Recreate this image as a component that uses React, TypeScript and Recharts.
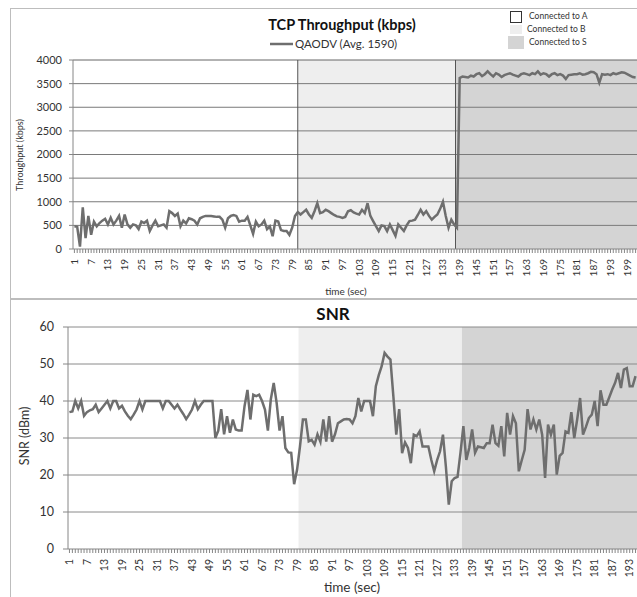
import { LineChart, Line, XAxis, YAxis, ReferenceArea, ReferenceLine } from 'recharts';

// TCP throughput (kbps), one value per second, t = 1..202
const throughput = [
  480, 470, 50, 880, 230, 700, 300, 580, 480, 550,
  600, 640, 520, 660, 520, 600, 700, 450, 730, 520,
  450, 520, 500, 420, 580, 550, 600, 380, 500, 600,
  480, 500, 520, 450, 800, 760, 700, 750, 480, 600,
  540, 650, 630, 600, 520, 650, 680, 700, 700, 700,
  690, 680, 680, 620, 450, 650, 700, 720, 700, 580,
  600, 600, 680, 500, 320, 580, 480, 520, 600, 420,
  480, 270, 600, 580, 400, 380, 380, 300, 450, 700,
  780, 730, 780, 830, 730, 660, 800, 970, 760, 780,
  830, 800, 760, 720, 690, 680, 660, 680, 800, 820,
  775, 750, 730, 830, 760, 970, 700, 590, 485, 380,
  500, 485, 380, 520, 400, 277, 520, 450, 380, 500,
  590, 600, 620, 720, 830, 730, 800, 700, 620, 680,
  730, 850, 1000, 700, 450, 620, 520, 450,
  3620, 3650, 3640, 3630, 3670, 3650, 3700, 3720, 3660, 3700,
  3760, 3700, 3650, 3720, 3690, 3640, 3680, 3700, 3720, 3690,
  3670, 3650, 3700, 3720, 3700, 3680, 3720, 3700, 3760, 3690,
  3720, 3700, 3650, 3700, 3720, 3680, 3700, 3670, 3600, 3680,
  3690, 3700, 3700, 3720, 3690, 3700, 3720, 3750, 3740, 3700,
  3520, 3700, 3690, 3700, 3680, 3720, 3700, 3720, 3740, 3730,
  3700, 3670, 3640, 3630,
];

// SNR (dBm), t = 1..195
const snr = [
  37, 37.2, 40, 38, 40, 36, 37, 37.5, 37.8, 39,
  37, 38, 39, 40, 38, 40, 40, 38, 38.7, 37.2,
  36, 35.1, 36.3, 37.7, 40, 37.7, 40, 40, 40, 40,
  40, 40, 38, 40, 40, 39, 38, 39, 37.7, 36.5,
  35.1, 36.3, 37.7, 40, 37.8, 39, 40, 40, 40, 40,
  30, 32, 37.8, 31, 35.9, 31.4, 35, 32.3, 32, 32,
  38.6, 43, 35, 41.7, 41.3, 41.7, 40, 37.7, 32, 40.4,
  44.9, 39.5, 32, 35.9, 27.3, 26.1, 26, 17.5, 21.4, 27.7,
  35, 35, 29.1, 29.5, 28.2, 31, 29, 35, 29, 35.9,
  29, 31, 34, 34.5, 35, 35.1, 35, 34, 35.9, 40.8,
  37.2, 40, 40, 40, 35.9, 44, 47, 49.4, 53, 52,
  51.2, 41.3, 30.9, 37.8, 25.9, 28.8, 27.3, 23.2, 30.9, 30.5,
  31.8, 27.7, 27.7, 27.7, 24.1, 21, 24, 26.4, 30.9, 22.3,
  12, 18.3, 19.2, 19.5, 26, 33.2, 24.1, 27.3, 32.3, 26,
  27.7, 27.5, 27.3, 28.6, 28.6, 33.6, 28.6, 27.9, 33.2, 25,
  36.8, 30.9, 35.9, 34, 21, 24, 26.8, 37.8, 32.3, 35,
  32.3, 35, 30.9, 19.2, 33.6, 30.9, 33.6, 20.1, 25.2, 26,
  31.8, 31.4, 37, 30, 35, 40.8, 30.9, 33, 35.4, 36.3,
  40, 33.2, 42.9, 39, 39, 41, 43.1, 44.9, 47.6, 43.5,
  48.5, 48.9, 44, 44, 46.7,
];

// connection periods (seconds, on category boundaries)
const tputPeriods = { b: [81, 137.5], s: [137.5, 202.5] };
const snrPeriods = { b: [79.5, 135.5], s: [135.5, 195.5] };

const tputTicksY = [0, 500, 1000, 1500, 2000, 2500, 3000, 3500, 4000];
const snrTicksY = [0, 10, 20, 30, 40, 50, 60];

const tputData = throughput.map((v, i) => ({ t: i + 1, kbps: v }));
const snrData = snr.map((v, i) => ({ t: i + 1, snr: v }));
const tputTicksX = tputData.map((d) => d.t);
const snrTicksX = snrData.map((d) => d.t);

const FONT = 'Lato, "Open Sans", sans-serif';
const LINE = '#6e6e6e';
const LIGHT = '#eeeeee';
const DARK = '#d4d4d4';

function TimeTick(props: any) {
  const { x, y, payload, fontSize } = props;
  if ((payload.value - 1) % 6 !== 0) return null;
  return (
    <text
      x={x}
      y={y}
      dx={-4}
      dy="0.35em"
      transform={`rotate(-90, ${x}, ${y})`}
      textAnchor="end"
      fontSize={fontSize}
      fontFamily={FONT}
      fill="#333"
    >
      {payload.value}
    </text>
  );
}

export default function App() {
  return (
    <div style={{ position: 'absolute', left: 0, top: 0, width: 637, height: 597, overflow: 'hidden', background: '#fff' }}>
      <div style={{ position: 'absolute', left: 10, top: 8, width: 700, height: 289, border: '1px solid #bdbdbd' }} />
      <div style={{ position: 'absolute', left: 10, top: 299, width: 700, height: 400, border: '1px solid #bdbdbd' }} />

      <div style={{ position: 'absolute', left: 0, top: 0 }}>
        <LineChart width={637} height={300} data={tputData} margin={{ top: 60, right: 0, bottom: 0, left: 0 }}>
          <ReferenceArea x1={tputPeriods.b[0]} x2={tputPeriods.b[1]} fill={LIGHT} fillOpacity={1} />
          <ReferenceArea x1={tputPeriods.s[0]} x2={tputPeriods.s[1]} fill={DARK} fillOpacity={1} />
          {tputTicksY.slice(1).map((v) => (
            <ReferenceLine key={v} y={v} stroke={v === 4000 ? '#666' : '#7a7a7a'} />
          ))}
          <ReferenceLine x={tputPeriods.b[0]} stroke="#555" />
          <ReferenceLine x={tputPeriods.s[0]} stroke="#555" />
          <XAxis
            type="number"
            dataKey="t"
            domain={[0.5, 202.5]}
            ticks={tputTicksX}
            interval={0}
            height={51}
            tickSize={4}
            tickMargin={2}
            stroke="#868686"
            tick={<TimeTick fontSize={10} />}
          />
          <YAxis
            domain={[0, 4000]}
            ticks={tputTicksY}
            width={73}
            tickSize={4}
            tickMargin={7}
            stroke="#868686"
            tick={{ fontSize: 11, fill: '#333', fontFamily: FONT }}
          />
          <Line type="linear" dataKey="kbps" stroke={LINE} strokeWidth={2.5} dot={false} isAnimationActive={false} />
        </LineChart>
      </div>

      <div style={{ position: 'absolute', left: 0, top: 300 }}>
        <LineChart width={637} height={297} data={snrData} margin={{ top: 27, right: 0, bottom: 0, left: 0 }}>
          <ReferenceArea x1={snrPeriods.b[0]} x2={snrPeriods.b[1]} fill={LIGHT} fillOpacity={1} />
          <ReferenceArea x1={snrPeriods.s[0]} x2={snrPeriods.s[1]} fill={DARK} fillOpacity={1} />
          {snrTicksY.slice(1).map((v) => (
            <ReferenceLine key={v} y={v} stroke="#8a8a8a" />
          ))}
          <XAxis
            type="number"
            dataKey="t"
            domain={[0.5, 195.5]}
            ticks={snrTicksX}
            interval={0}
            height={48}
            tickSize={4}
            tickMargin={2}
            stroke="#868686"
            tick={<TimeTick fontSize={10.5} />}
          />
          <YAxis
            domain={[0, 60]}
            ticks={snrTicksY}
            width={68}
            tickSize={5}
            tickMargin={9}
            stroke="#868686"
            tick={{ fontSize: 12.5, fill: '#333', fontFamily: FONT }}
          />
          <Line type="linear" dataKey="snr" stroke={LINE} strokeWidth={2.5} dot={false} isAnimationActive={false} />
        </LineChart>
      </div>

      <svg width={637} height={597} style={{ position: 'absolute', left: 0, top: 0, pointerEvents: 'none' }} fontFamily={FONT}>
        <text x={342} y={30} textAnchor="middle" fontSize={14.5} fontWeight="bold" fill="#111">TCP Throughput (kbps)</text>
        <line x1={270} x2={293} y1={44} y2={44} stroke={LINE} strokeWidth={2.5} />
        <text x={295} y={48} fontSize={11.5} fill="#333">QAODV (Avg. 1590)</text>
        <rect x={510.5} y={11.5} width={11} height={11} fill="#fff" stroke="#333" />
        <text x={529} y={19} fontSize={8.5} fill="#333">Connected to A</text>
        <rect x={510} y={25} width={12} height={9} fill={LIGHT} />
        <text x={527} y={32} fontSize={8.5} fill="#333">Connected to B</text>
        <rect x={508} y={36} width={16} height={13} fill={DARK} />
        <text x={529} y={45} fontSize={8.5} fill="#333">Connected to S</text>
        <text transform="translate(23,155) rotate(-90)" textAnchor="middle" fontSize={9} fill="#333">Throughput (kbps)</text>
        <text x={346} y={295} textAnchor="middle" fontSize={10} fill="#333">time (sec)</text>

        <text x={333} y={320} textAnchor="middle" fontSize={17} fontWeight="bold" fill="#111">SNR</text>
        <text transform="translate(29,436) rotate(-90)" textAnchor="middle" fontSize={12.5} fill="#333">SNR (dBm)</text>
        <text x={352} y={592} textAnchor="middle" fontSize={13.5} fill="#333">time (sec)</text>
      </svg>
    </div>
  );
}
